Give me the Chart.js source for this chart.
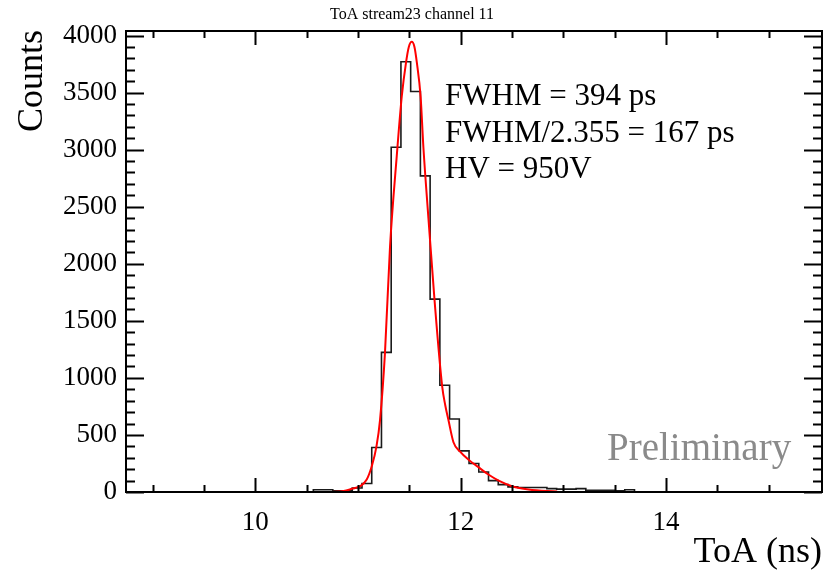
<!DOCTYPE html>
<html>
<head>
<meta charset="utf-8">
<title>ToA stream23 channel 11</title>
<script src="https://cdn.jsdelivr.net/npm/chart.js@4/dist/chart.umd.min.js"></script>
<style>
  html, body { margin: 0; padding: 0; background: #fff; }
  #wrap { width: 825px; height: 575px; }
</style>
</head>
<body>
<div id="wrap"><canvas id="toa" width="825" height="575"></canvas></div>
<script>
// histogram: ToA (ns), fixed bin width, counts per bin
const binStart = 10.565;
const binWidth = 0.0948;
const binCounts = [
  20, 20, 10, 10, 35, 75, 390, 1224, 3021, 3770,
  3510, 2770, 1690, 935, 640, 360, 250, 175, 100, 65,
  45, 40, 40, 40, 30, 25, 25, 30, 15, 15,
  15, 10, 20
];

// fitted curve (red), sampled along the drawn line
const fitX = [10.743, 10.86, 10.94, 11.02, 11.085, 11.134, 11.18, 11.215, 11.263, 11.312,
  11.378, 11.426, 11.468, 11.495, 11.524, 11.55, 11.573, 11.61, 11.637, 11.686,
  11.745, 11.82, 11.85, 11.88, 11.93, 11.99, 12.086, 12.17, 12.27, 12.37,
  12.5, 12.66, 12.94];
const fitY = [0, 8, 28, 51, 110, 226, 400, 635, 1224, 2150,
  2950, 3464, 3765, 3900, 3945, 3900, 3765, 3464, 3021, 2400,
  1688, 926, 760, 635, 436, 358, 277, 220, 153, 100,
  51, 22, 5];

const xTickLabels = [10, 12, 14];
const xMinorTicks = [9, 9.5, 10.5, 11, 11.5, 12.5, 13, 13.5, 14.5, 15];
const yTickLabels = [0, 500, 1000, 1500, 2000, 2500, 3000, 3500, 4000];
const yMinorStep = 100;

const notes = ["FWHM = 394 ps", "FWHM/2.355 = 167 ps", "HV = 950V"];

const SERIF = "'Liberation Serif', 'DejaVu Serif', serif";

function histPoints() {
  const pts = [{ x: binStart, y: 0 }];
  binCounts.forEach((c, i) => pts.push({ x: binStart + i * binWidth, y: c }));
  pts.push({ x: binStart + binCounts.length * binWidth, y: 0 });
  return pts;
}

// ROOT-style frame: box with inward ticks on all four sides, plus the texts
const rootFrame = {
  id: "rootFrame",
  afterDraw(chart) {
    const { ctx, chartArea: a, scales } = chart;
    const xs = scales.x, ys = scales.y;
    ctx.save();
    ctx.strokeStyle = "#000";
    ctx.lineWidth = 2;
    ctx.strokeRect(a.left, a.top, a.right - a.left, a.bottom - a.top);

    ctx.beginPath();
    const xTick = (v, len) => {
      const px = Math.round(xs.getPixelForValue(v)) + 0.5;
      ctx.moveTo(px, a.bottom); ctx.lineTo(px, a.bottom - len);
      ctx.moveTo(px, a.top); ctx.lineTo(px, a.top + len);
    };
    const yTick = (v, len) => {
      const py = Math.round(ys.getPixelForValue(v)) + 0.5;
      ctx.moveTo(a.left, py); ctx.lineTo(a.left + len, py);
      ctx.moveTo(a.right, py); ctx.lineTo(a.right - len, py);
    };
    xTickLabels.forEach((v) => xTick(v, 14));
    xMinorTicks.forEach((v) => xTick(v, 7));
    for (let v = 0; v <= ys.max; v += yMinorStep) {
      yTick(v, v % 500 === 0 ? 18 : 9);
    }
    ctx.stroke();

    ctx.fillStyle = "#000";
    ctx.textBaseline = "alphabetic";

    ctx.font = `16px ${SERIF}`;
    ctx.textAlign = "center";
    ctx.fillText("ToA stream23 channel 11", 412, 19);

    ctx.font = `36px ${SERIF}`;
    ctx.textAlign = "right";
    ctx.fillText("ToA (ns)", 822, 562);

    ctx.save();
    ctx.translate(42, 30);
    ctx.rotate(-Math.PI / 2);
    ctx.textAlign = "right";
    ctx.fillText("Counts", 0, 0);
    ctx.restore();

    ctx.font = `31px ${SERIF}`;
    ctx.textAlign = "left";
    notes.forEach((t, i) => ctx.fillText(t, 445, 105 + i * 36.7));

    ctx.font = `39px ${SERIF}`;
    ctx.fillStyle = "#8a8a8a";
    ctx.fillText("Preliminary", 607, 460);
    ctx.restore();
  },
};

new Chart(document.getElementById("toa"), {
  type: "line",
  data: {
    datasets: [
      {
        label: "fit",
        data: fitX.map((x, i) => ({ x, y: fitY[i] })),
        borderColor: "#ff0000",
        borderWidth: 2,
        pointRadius: 0,
        cubicInterpolationMode: "monotone",
        order: 0,
      },
      {
        label: "ToA",
        data: histPoints(),
        borderColor: "#1a1a1a",
        borderWidth: 1.6,
        pointRadius: 0,
        stepped: "before",
        order: 1,
      },
    ],
  },
  options: {
    responsive: false,
    animation: false,
    layout: { padding: { top: 31, right: 3, left: 0, bottom: 0 } },
    plugins: { legend: { display: false }, tooltip: { enabled: false }, title: { display: false } },
    scales: {
      x: {
        type: "linear",
        min: 8.74,
        max: 15.52,
        grid: { display: false, drawTicks: false },
        border: { display: false },
        afterBuildTicks: (s) => { s.ticks = xTickLabels.map((v) => ({ value: v })); },
        afterFit: (s) => { s.height = 83; },
        ticks: { color: "#000", font: { family: SERIF, size: 27 }, padding: 15, maxRotation: 0,
          callback: (v) => String(v) },
      },
      y: {
        min: 0,
        max: 4040,
        grid: { display: false, drawTicks: false },
        border: { display: false },
        afterBuildTicks: (s) => { s.ticks = yTickLabels.map((v) => ({ value: v })); },
        afterFit: (s) => { s.width = 126; },
        ticks: { color: "#000", font: { family: SERIF, size: 27 }, padding: 9,
          callback: (v) => String(v) },
      },
    },
  },
  plugins: [rootFrame],
});
</script>
</body>
</html>
